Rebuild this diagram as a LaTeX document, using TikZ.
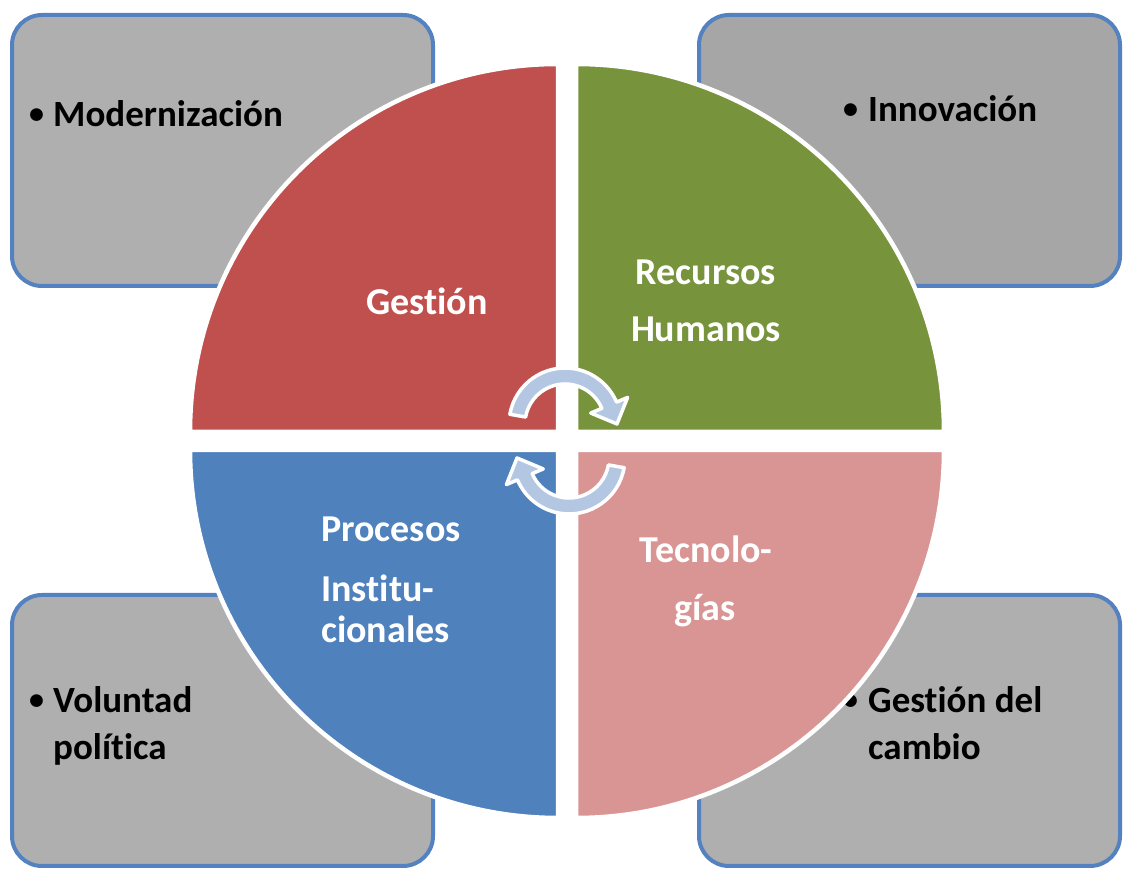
\documentclass[tikz,border=0pt]{standalone}
\usepackage{fontspec}
\setmainfont{Carlito}[RawFeature={-liga;-clig;-dlig;-calt}]
\definecolor{qred}{RGB}{192,80,77}
\definecolor{qgreen}{RGB}{119,147,60}
\definecolor{qblue}{RGB}{79,129,189}
\definecolor{qpink}{RGB}{217,149,148}
\definecolor{boxline}{RGB}{84,130,192}
\definecolor{boxgray}{RGB}{175,175,175}
\definecolor{boxgrayb}{RGB}{166,166,166}
\definecolor{arrowblue}{RGB}{180,199,226}
\begin{document}
\begin{tikzpicture}[x=1pt,y=1pt,
  greybox/.style={draw=boxline, line width=4pt, rounded corners=30pt, fill=boxgray,
    minimum width=421pt, minimum height=271pt, inner sep=0pt, outer sep=0pt},
  quad/.style={draw=white, line width=4.5pt, line join=miter},
  boxtext/.style={font=\fontsize{37}{44}\selectfont\bfseries, text=black, inner sep=0pt, anchor=base west},
  bullet/.style={font=\fontsize{30}{36}\selectfont\bfseries, text=black, inner sep=0pt, anchor=base west},
  quadtext/.style={font=\fontsize{38}{46}\selectfont\bfseries, text=white, inner sep=0pt, anchor=base},
  cyc/.style={fill=arrowblue, draw=white, line width=3.5pt, line join=round}]
\useasboundingbox (0,0) rectangle (1124,872);
\fill[white] (0,0) rectangle (1124,872);
% grey boxes
\node[greybox] (boxTL) at (222.5,721.5) {};
\node[greybox, fill=boxgrayb] (boxTR) at (909.5,721.5) {};
\node[greybox] (boxBL) at (222.5,141.5) {};
\node[greybox] (boxBR) at (909.5,141.5) {};
% box texts
\node[bullet] (bTL) at (29,748) {•};
\node[boxtext] (tTL) at (53,745) {Modernización};
\node[bullet] (bTR) at (843,753) {•};
\node[boxtext] (tTR) at (868,750) {Innovación};
\node[bullet] (bBL) at (29,162) {•};
\node[boxtext] (tBL1) at (53,159) {Voluntad};
\node[boxtext] (tBL2) at (53,112) {política};
\node[bullet] (bBR) at (843,162) {•};
\node[boxtext] (tBR1) at (868,159) {Gestión del};
\node[boxtext] (tBR2) at (868,112) {cambio};
% quadrants
\draw[quad, fill=qred] (558,440) -- (558,808) arc[start angle=90, end angle=180, radius=368] -- cycle;
\draw[quad, fill=qgreen] (576,440) -- (944,440) arc[start angle=0, end angle=90, radius=368] -- cycle;
\draw[quad, fill=qblue] (558,422) -- (190,422) arc[start angle=180, end angle=270, radius=368] -- cycle;
\draw[quad, fill=qpink] (576,422) -- (576,54) arc[start angle=270, end angle=360, radius=368] -- cycle;
% quadrant texts
\node[quadtext] (qG) at (427,557) {Gestión};
\node[quadtext] (qR1) at (706,587) {Recursos};
\node[quadtext] (qR2) at (706,530) {Humanos};
\node[quadtext, anchor=base west] (qP1) at (321,330) {Procesos};
\node[quadtext, anchor=base west] (qP2) at (321,270) {Institu-};
\node[quadtext, anchor=base west] (qP3) at (321,229) {cionales};
\node[quadtext] (qT1) at (706,309) {Tecnolo-};
\node[quadtext] (qT2) at (705,251) {gías};
% cycle arrows
\begin{scope}[shift={(565,448)}]
  \path[cyc] (170:56) arc[start angle=170, end angle=23, radius=56] -- (23:68) -- (52,0) -- (23:28) -- (23:40) arc[start angle=23, end angle=170, radius=40] -- cycle;
\end{scope}
\begin{scope}[shift={(567,431)}, rotate=180, shift={(-2,17)}]
  \path[cyc] (170:56) arc[start angle=170, end angle=23, radius=56] -- (23:68) -- (52,0) -- (23:28) -- (23:40) arc[start angle=23, end angle=170, radius=40] -- cycle;
\end{scope}
\end{tikzpicture}
\end{document}
